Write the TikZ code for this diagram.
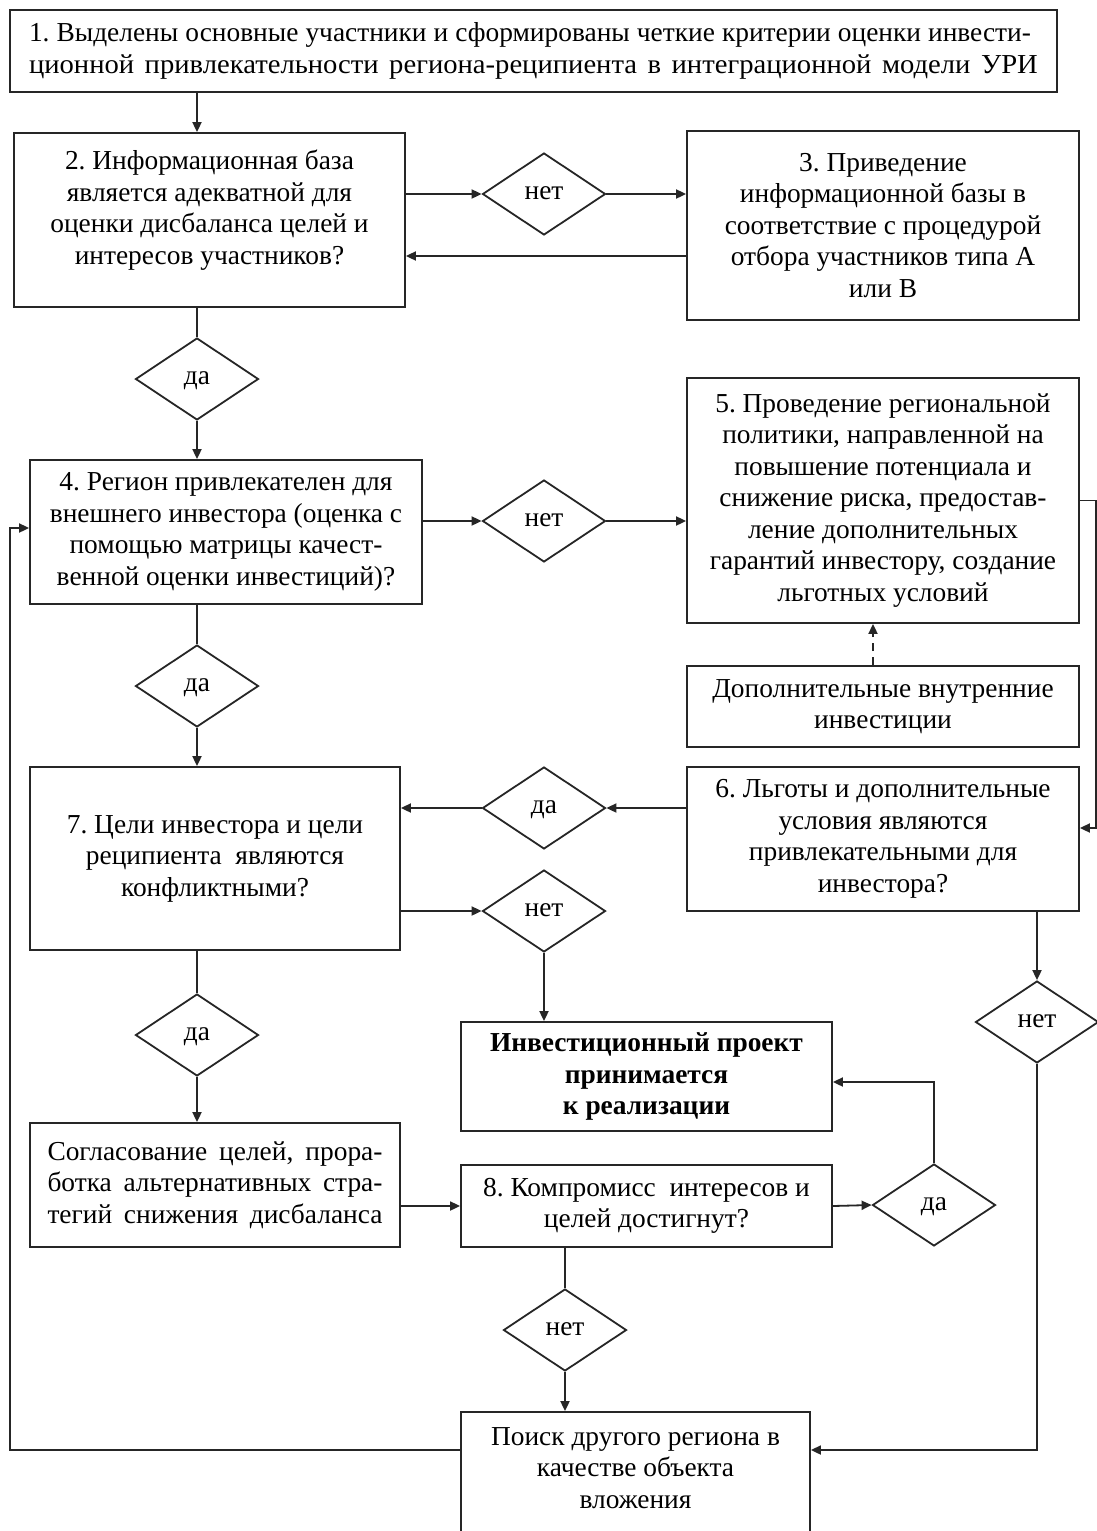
\documentclass[tikz,border=0pt]{standalone}
\usepackage{fontspec}
\setmainfont{Liberation Serif}
\newfontfamily\widefont{Liberation Serif}[FakeStretch=1.045]
\usetikzlibrary{arrows.meta,shapes.geometric}
\begin{document}
\frenchspacing
\begin{tikzpicture}[x=0.5pt,y=-0.5pt,
  every node/.style={font=\fontsize{13.7}{15.75}\selectfont\frenchspacing, text=black},
  box/.style={draw=black!85, line width=0.9pt, rectangle, inner sep=0pt, align=center},
  dia/.style={draw=black!85, line width=0.9pt, diamond, inner sep=0pt, minimum width=61.5pt, minimum height=41pt, text height=1.5ex, text depth=0.2ex},
  ln/.style={draw=black!85, line width=0.9pt},
  arr/.style={ln, -{Triangle[length=5pt,width=4.5pt]}}]
\useasboundingbox (0,0) rectangle (1097,1531);
\clip (0,0) rectangle (1097,1531);
\fill[white] (0,0) rectangle (1097,1531);

% boxes
\node[box, align=left, minimum width=523.5pt, minimum height=41pt] (b1) at (533.5,51)
  {\makebox[501pt][s]{1. Выделены основные участники и сформированы четкие критерии оценки инвести-}\\\makebox[504.5pt][s]{\widefont ционной привлекательности региона-реципиента в интеграционной модели УРИ}};
\node[box, minimum width=195.5pt, minimum height=87pt] (b2) at (209.5,220)
  {2. Информационная база\\является адекватной для\\оценки дисбаланса целей и\\интересов участников?\\[-2.75pt]};
\node[box, minimum width=196pt, minimum height=94.5pt] (b3) at (883,225.5)
  {3. Приведение\\информационной базы в\\соответствие с процедурой\\отбора участников типа А\\или В};
\node[box, minimum width=196pt, minimum height=72pt] (b4) at (226,532)
  {4. Регион привлекателен для\\внешнего инвестора (оценка с\\помощью матрицы качест-\\венной оценки инвестиций)?};
\node[box, minimum width=196pt, minimum height=122.5pt] (b5) at (883,500.5)
  {5. Проведение региональной\\политики, направленной на\\повышение потенциала и\\снижение риска, предостав-\\ление дополнительных\\гарантий инвестору, создание\\льготных условий};
\node[box, minimum width=196pt, minimum height=40.5pt] (dop) at (883,706.5)
  {Дополнительные внутренние\\инвестиции};
\node[box, minimum width=196pt, minimum height=72pt] (b6) at (883,839)
  {6. Льготы и дополнительные\\условия являются\\привлекательными для\\инвестора?};
\node[box, minimum width=185pt, minimum height=91.5pt] (b7) at (215,858.5)
  {7. Цели инвестора и цели\\реципиента\ \ являются\\конфликтными?};
\node[box, minimum width=185.5pt, minimum height=54.5pt, font=\fontsize{13.7}{15.75}\selectfont\bfseries] (inv) at (646.5,1076.5)
  {Инвестиционный проект\\принимается\\к реализации};
\node[box, align=left, minimum width=185pt, minimum height=62pt] (sogl) at (215,1185)
  {\makebox[167.5pt][s]{Согласование целей, прора-}\\\makebox[167.5pt][s]{ботка альтернативных стра-}\\\makebox[167.5pt][s]{тегий снижения дисбаланса}};
\node[box, minimum width=185.5pt, minimum height=41pt] (b8) at (646.5,1206)
  {8. Компромисс\ \ интересов и\\целей достигнут?};
\node[box, minimum width=174.5pt, minimum height=78pt] (poisk) at (635.5,1490) {};
\node[align=center] (poisktxt) at (635.5,1468) {Поиск другого региона в\\качестве объекта\\вложения};

% diamonds
\node[dia] (d1) at (544,194) {нет};
\node[dia] (d2) at (197,379) {да};
\node[dia] (d3) at (544,521) {нет};
\node[dia] (d4) at (197,686) {да};
\node[dia] (d5) at (544,808) {да};
\node[dia] (d6) at (544,911) {нет};
\node[dia] (d7) at (1037,1022) {нет};
\node[dia] (d8) at (197,1035) {да};
\node[dia] (d9) at (934,1205) {да};
\node[dia] (d10) at (565,1330) {нет};

\coordinate (rr) at (1096,0);
\coordinate (lx) at (10,0);

% connectors
\draw[arr] (d2 |- b1.south) -- (d2 |- b2.north);
\draw[arr] (d1 -| b2.east) -- (d1.west);
\draw[arr] (d1.east) -- (d1 -| b3.west);
\draw[arr] ([yshift=-15.25pt]b3.west) -- ([yshift=-15.25pt]b3.west -| b2.east);
\draw[ln] (d2 |- b2.south) -- (d2.north);
\draw[arr] (d2.south) -- (d2 |- b4.north);
\draw[arr] (d3 -| b4.east) -- (d3.west);
\draw[arr] (d3.east) -- (d3 -| b5.west);
\draw[arr] (b5.east) -- (b5.east -| rr) |- ([yshift=5.5pt]b6.east);
\draw[arr, dashed, dash pattern=on 4pt off 3pt] ([xshift=-5pt]dop.north) -- ([xshift=-5pt]b5.south);
\draw[ln] (d4 |- b4.south) -- (d4.north);
\draw[arr] (d4.south) -- (d4 |- b7.north);
\draw[arr] (d5 -| b6.west) -- (d5.east);
\draw[arr] (d5.west) -- (d5 -| b7.east);
\draw[arr] (d6 -| b7.east) -- (d6.west);
\draw[arr] (d6.south) -- (d6 |- inv.north);
\draw[arr] (d7 |- b6.south) -- (d7.north);
\draw[arr] (d7.south) |- ([yshift=20pt]poisk.east);
\draw[ln] (d8 |- b7.south) -- (d8.north);
\draw[arr] (d8.south) -- (d8 |- sogl.north);
\draw[arr] (b8.west -| sogl.east) -- (b8.west);
\draw[arr] (b8.east) -- (d9.west);
\draw[arr] (d9.north) |- ([yshift=-2.75pt]inv.east);
\draw[ln] (d10 |- b8.south) -- (d10.north);
\draw[arr] (d10.south) -- (d10 |- poisk.north);
\draw[arr] ([yshift=20pt]poisk.west) -- ([yshift=20pt]poisk.west -| lx) |- ([yshift=2pt]b4.west);
\end{tikzpicture}
\end{document}
